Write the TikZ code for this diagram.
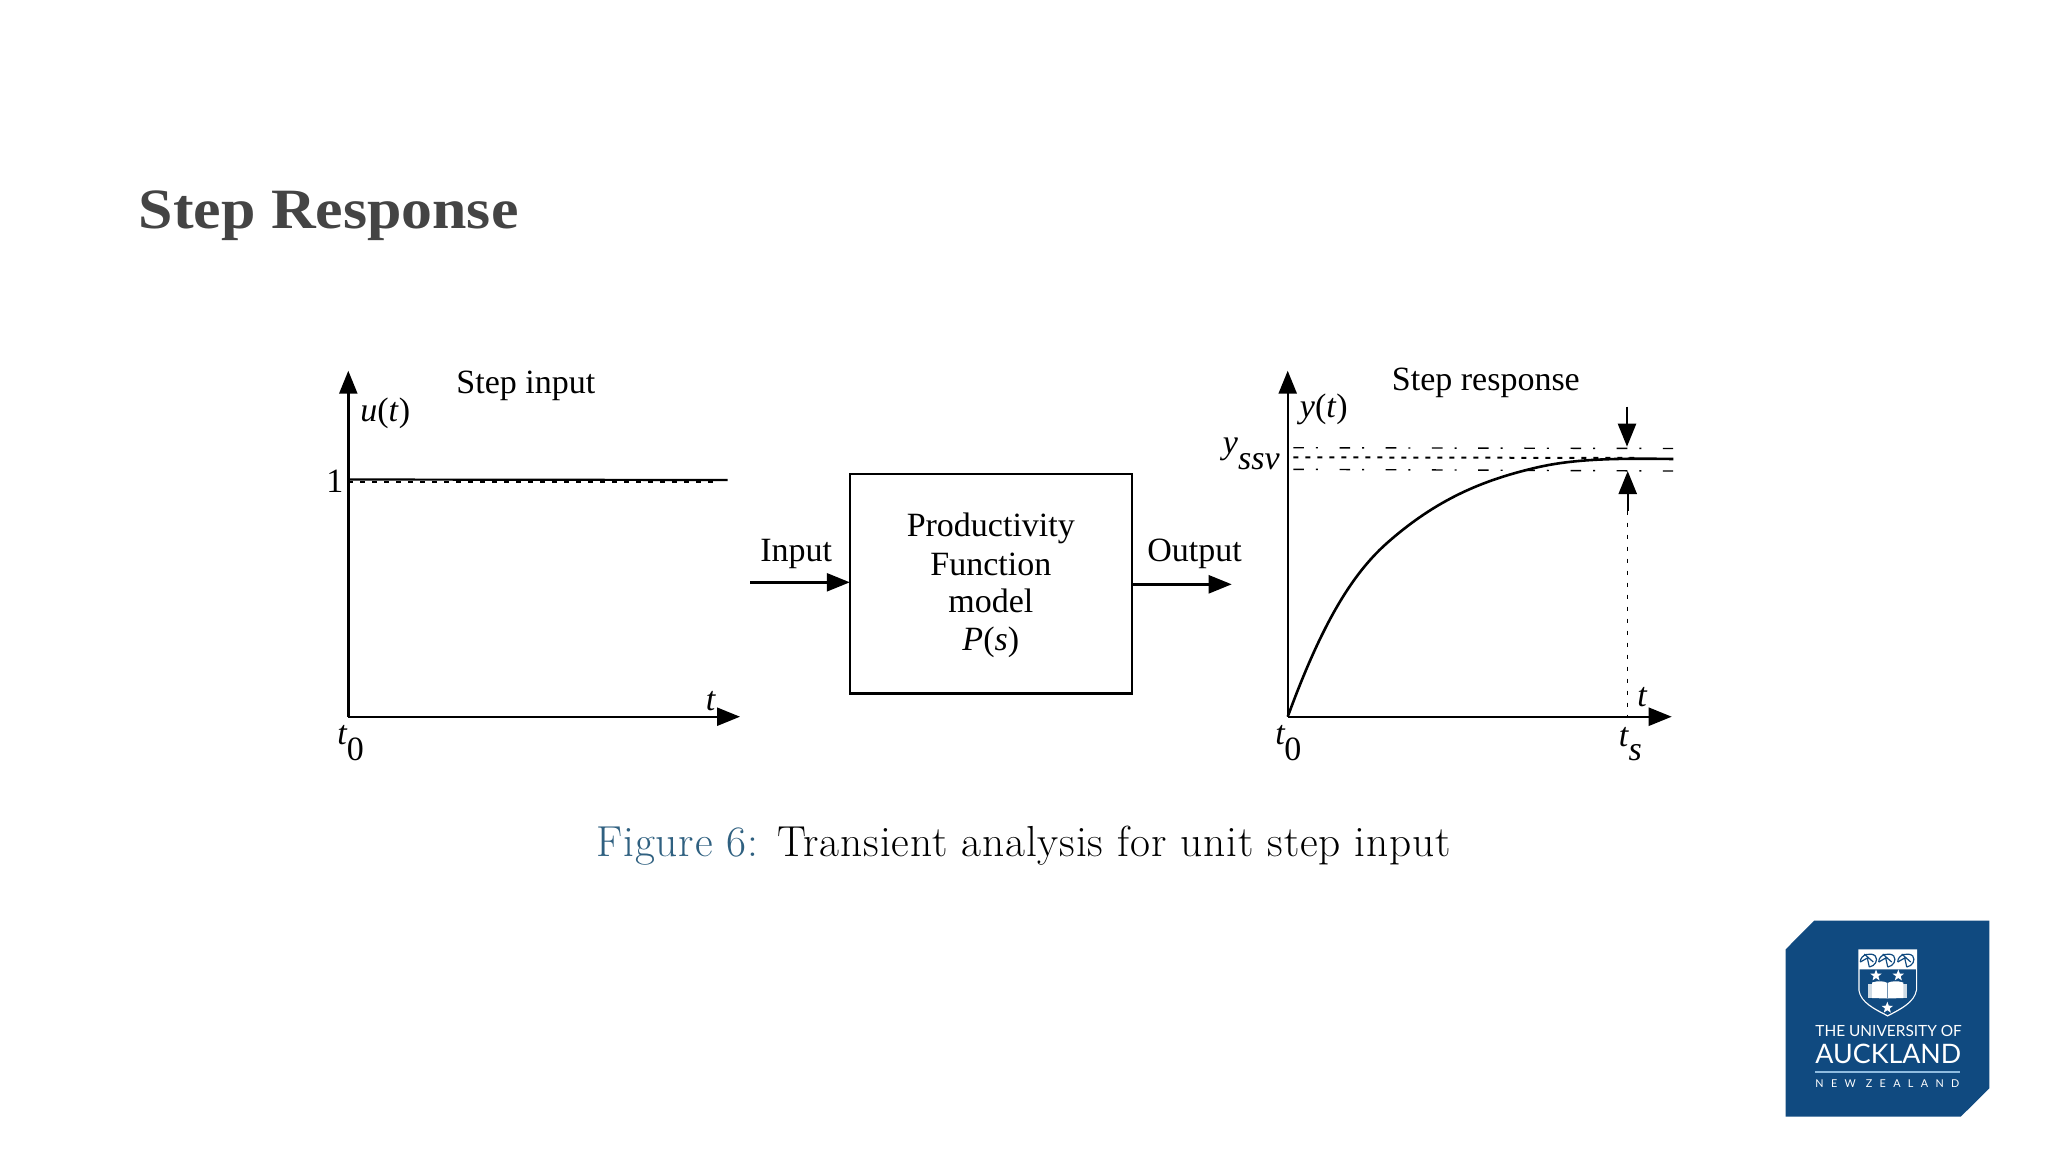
\documentclass[tikz,border=0pt]{standalone}
\usepackage{fontspec}
\usepackage{xcolor}
\usetikzlibrary{arrows.meta,calc,shapes.geometric}
\setmainfont{Latin Modern Roman}
\newfontfamily\plotfont{Liberation Serif}
\newfontfamily\titlefont[FakeStretch=1.085]{Liberation Serif}
\newfontfamily\logofont{Lato}
\definecolor{slidegrey}{HTML}{444444}
\definecolor{capblue}{HTML}{2F6080}
\definecolor{logoblue}{HTML}{104A80}
\definecolor{logorule}{HTML}{8FBCE0}
\tikzset{
	lab/.style={inner sep=0,anchor=base west,font=\fontsize{17}{19}\selectfont\plotfont},
	axis/.style={line width=1.2pt,-{Triangle[length=11.5pt,width=9pt]}},
	dashdot/.style={line width=0.7pt,dash pattern=on 5.3pt off 6pt on 1pt off 10.8pt},
	logotext/.style={inner sep=0,anchor=base west,text=white},
	logostar/.style={star,star points=5,star point ratio=2.4,fill=white,inner sep=0,minimum size=6pt}
}
\begin{document}
\begin{tikzpicture}[x=0.5pt,y=-0.5pt]
	\useasboundingbox (0,0) rectangle (2048,1152);
	\node[inner sep=0,anchor=base west,text=slidegrey,font=\fontsize{28.5}{30}\selectfont\titlefont\bfseries] (title) at (138.5,228) {Step Response};
	% step input
	\coordinate (uo) at (348.3,716.7);
	\coordinate (utop) at (348.3,370.7);
	\coordinate (uend) at (740,716.7);
	\draw[axis] (uo) -- (utop);
	\draw[axis] (uo) -- (uend);
	\draw[line width=1.1pt] (348.3,479.5) -- (727.7,480);
	\draw[line width=1pt,dash pattern=on 2.5pt off 3.5pt] (348.3,481.5) -- (720,481.5);
	\node[lab] (inputtitle) at (456,393) {Step input};
	\node[lab] (ulabel) at (360,421.7) {\textit{u}(\textit{t})};
	\node[lab] (one) at (326,492) {1};
	\node[lab] (ut) at (705.5,710.7) {\textit{t}};
	\node[lab] (ut0) at (337,744.5) {\textit{t}};
	\node[lab] (ut00) at (346.5,760) {0};
	% block
	\node[draw,line width=1.2pt,minimum width=141.2pt,minimum height=109.6pt,inner sep=0,outer sep=0] (model) at (991,583.7) {};
	\node[lab,anchor=base] (modelA) at (990.8,536.7) {Productivity};
	\node[lab,anchor=base] (modelB) at (990.8,575.3) {Function};
	\node[lab,anchor=base] (modelC) at (990.8,612.7) {model};
	\node[lab,anchor=base] (modelD) at (990.8,650.7) {\textit{P}(\textit{s})};
	\coordinate (instart) at (750,582.3);
	\coordinate (outend) at (1231.7,584.3);
	\draw[axis] (instart) -- (instart -| model.west);
	\draw[axis] (outend -| model.east) -- (outend);
	\node[lab] (inputlabel) at (760,561) {Input};
	\node[lab] (outputlabel) at (1147,561) {Output};
	% step response
	\coordinate (yo) at (1287.7,716.7);
	\coordinate (ytop) at (1287.7,370.7);
	\coordinate (yend) at (1671.7,716.7);
	\draw[axis] (yo) -- (ytop);
	\draw[axis] (yo) -- (yend);
	\draw[dashdot] (1293.3,447.7) -- (1673,448.5);
	\draw[dashdot] (1293.3,469.3) -- (1673,471);
	\draw[line width=1pt,dash pattern=on 2.5pt off 3.5pt] (1293.3,457.3) -- (1640,458);
	\draw[line width=1.3pt,line join=round] (yo) .. controls (1320.7,626.7) and (1350.7,575.3) .. (1386.7,543.3) .. controls (1436.7,498.9) and (1483.3,480.3) .. (1533.3,468.3) .. controls (1570,459.3) and (1610,458) .. (1673.3,459);
	\coordinate (downstart) at (1627,406.7);
	\coordinate (downtip) at (1627,446.7);
	\coordinate (upstart) at (1627.7,510.7);
	\coordinate (uptip) at (1627.7,471);
	\coordinate (tsfoot) at (1627.7,716.7);
	\draw[axis] (downstart) -- (downtip);
	\draw[axis] (upstart) -- (uptip);
	\draw[line width=0.7pt,dash pattern=on 2pt off 4pt] (upstart) -- (tsfoot);
	\node[lab] (responsetitle) at (1391.5,390) {Step response};
	\node[lab] (ylabel) at (1299.5,417.7) {\textit{y}(\textit{t})};
	\node[lab] (ysym) at (1222.5,453.7) {\textit{y}};
	\node[lab] (yssv) at (1237.7,469.5) {\textit{ssv}};
	\node[lab] (yt) at (1637,706.7) {\textit{t}};
	\node[lab] (yt0) at (1275,744.5) {\textit{t}};
	\node[lab] (yt00) at (1284,760) {0};
	\node[lab] (yts) at (1618.5,746) {\textit{t}};
	\node[lab] (ytss) at (1628.3,760.5) {\textit{s}};
	% caption
	\node[inner sep=0,anchor=base west,font=\fontsize{21.7}{24}\selectfont\addfontfeature{LetterSpace=2}] (caption) at (596,856.5) {\textcolor{capblue}{Figure 6:} Transient analysis for unit step input};
	% logo
	\fill[logoblue] (1785.7,949.3) -- (1814,920.7) -- (1989.3,920.7) -- (1989.3,1088.3) -- (1960.7,1116.7) -- (1785.7,1116.7) -- cycle;
	\fill[white] (1858.3,949.3) -- (1917,949.3) -- (1917,990) .. controls (1915,1003) and (1900,1010) .. (1887.7,1016.5) .. controls (1875,1010) and (1860,1003) .. (1858.3,990) -- cycle;
	\fill[logoblue] (1859.5,969.3) -- (1915.8,969.3) -- (1915.8,990) .. controls (1914,1002) and (1899,1009) .. (1887.7,1015) .. controls (1876,1009) and (1861,1002) .. (1859.5,990) -- cycle;
	\foreach \cx in {1868.3,1886.7,1905.7}{
		\draw[logoblue,line width=0.6pt] (\cx-8,962) .. controls (\cx-8,954) and (\cx+3,952) .. (\cx+7,956) .. controls (\cx+10,960) and (\cx+7,966) .. (\cx+1,967);
		\draw[logoblue,line width=0.6pt] (\cx-8,962) -- (\cx-1,958) -- (\cx+1,967) (\cx-4,954) -- (\cx+5,962);
	}
	\node[logostar] (staraa) at (1876,975.5) {};
	\node[logostar] (starbb) at (1898.3,975.5) {};
	\node[logostar] (starcc) at (1887.3,1007.7) {};
	\fill[white!80!logoblue] (1867.7,983.5) rectangle (1907,998);
	\fill[white] (1872,982.5) .. controls (1878,980.5) and (1884,981) .. (1887.5,983) .. controls (1891,981) and (1897,980.5) .. (1903.3,982.5) -- (1903.3,998) -- (1887.5,998.5) -- (1872,998) -- cycle;
	\draw[logoblue!60!white,line width=0.3pt] (1887.5,983) -- (1887.5,998.5);
	\node[logotext,font=\fontsize{7.7}{9}\selectfont\logofont] (logoA) at (1815,1036.7) {THE UNIVERSITY OF};
	\node[logotext,font=\fontsize{13.4}{14}\selectfont\logofont] (logoB) at (1815,1063) {AUCKLAND};
	\node[logotext,font=\fontsize{5.4}{7}\selectfont\logofont\addfontfeature{LetterSpace=68}] (logoC) at (1815,1087.7) {NEW ZEALAND};
	\coordinate (rulea) at (1815,1072);
	\coordinate (ruleb) at (1960,1072);
	\draw[logorule,line width=0.6pt] (rulea) -- (ruleb);
\end{tikzpicture}
\end{document}
